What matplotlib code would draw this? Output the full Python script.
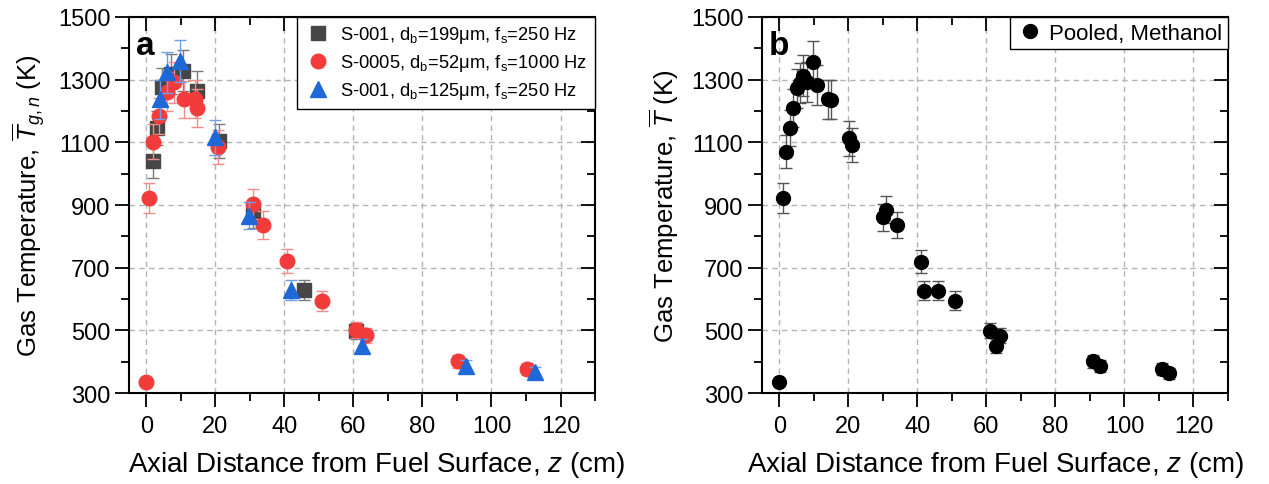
import matplotlib
matplotlib.use("Agg")
import matplotlib.pyplot as plt
from matplotlib.ticker import MultipleLocator, FixedLocator

plt.rcParams['font.family'] = ['Liberation Sans', 'DejaVu Sans']
plt.rcParams['mathtext.fontset'] = 'custom'
plt.rcParams['mathtext.rm'] = 'Liberation Sans'
plt.rcParams['mathtext.it'] = 'Liberation Sans:italic'
plt.rcParams['mathtext.bf'] = 'Liberation Sans:bold'

# panel a: three runs
gray_z = [1.8, 3.0, 4.4, 7.1, 10.7, 14.8, 21.1, 30.9, 45.8, 60.7]
gray_T = [1041, 1146, 1276, 1318, 1329, 1265, 1105, 871, 629, 497]
gray_err = [55, 55, 60, 63, 66, 63, 55, 44, 32, 25]

red_z = [0.0, 0.9, 1.8, 3.8, 5.9, 8.1, 10.8, 14.0, 14.8, 20.8, 30.9, 33.8, 40.7, 50.8, 60.7, 63.6, 90.3, 110.2]
red_T = [334, 921, 1102, 1183, 1262, 1292, 1237, 1238, 1209, 1084, 903, 837, 720, 594, 501, 485, 401, 377]
red_err = [5, 48, 55, 58, 62, 65, 60, 60, 60, 54, 47, 44, 38, 31, 25, 24, 20, 18]

blue_z = [4.0, 5.9, 9.8, 19.9, 29.7, 41.8, 62.6, 92.7, 112.6]
blue_T = [1238, 1323, 1360, 1116, 866, 630, 451, 387, 366]
blue_err = [62, 66, 66, 55, 43, 32, 22, 19, 18]

labels = ["S-001, d$_\\mathrm{b}$=199\u03bcm, f$_\\mathrm{s}$=250 Hz",
          "S-0005, d$_\\mathrm{b}$=52\u03bcm, f$_\\mathrm{s}$=1000 Hz",
          "S-001, d$_\\mathrm{b}$=125\u03bcm, f$_\\mathrm{s}$=250 Hz"]

# panel b: pooled
pool_z = [0.0, 1.0, 1.9, 3.0, 4.0, 5.0, 6.0, 7.0, 7.9, 9.9, 11.0, 14.2, 15.1, 20.1, 21.1,
          30.1, 30.8, 34.1, 41.0, 41.9, 46.0, 51.0, 60.9, 62.8, 64.0, 90.8, 92.9, 111.0, 112.9]
pool_T = [334, 921, 1070, 1145, 1209, 1272, 1290, 1313, 1292, 1355, 1283, 1238, 1236, 1113, 1092,
          861, 885, 837, 719, 627, 627, 594, 499, 449, 483, 401, 385, 377, 363]
pool_err = [5, 48, 53, 57, 60, 63, 64, 65, 64, 68, 64, 62, 62, 56, 55,
            43, 44, 42, 36, 31, 31, 30, 25, 22, 24, 20, 19, 19, 18]

y_major = [300, 500, 700, 900, 1100, 1300, 1500]
y_minor = [400, 600, 800, 1000, 1200, 1400]

fig = plt.figure(figsize=(12.69, 4.85), dpi=100)
ax1 = fig.add_axes([0.1017, 0.1876, 0.3672, 0.7753])
ax2 = fig.add_axes([0.6005, 0.1876, 0.3672, 0.7753])


def style_axes(ax):
    ax.set_xlim(-5, 130)
    ax.set_ylim(300, 1500)
    ax.xaxis.set_major_locator(MultipleLocator(20))
    ax.xaxis.set_minor_locator(MultipleLocator(10))
    ax.yaxis.set_major_locator(FixedLocator(y_major))
    ax.yaxis.set_minor_locator(FixedLocator(y_minor))
    ax.grid(True, which='major', ls=(0, (4, 3)), color='#b4b4b4', lw=1)
    ax.set_axisbelow(True)
    for s in ax.spines.values():
        s.set_linewidth(1.5)
    ax.tick_params(which='both', labelsize=17, width=1.3, direction='out',
                   top=True, right=True)
    ax.tick_params(which='major', length=10)
    ax.tick_params(which='minor', length=5.5)
    ax.tick_params(axis='x', which='both', pad=6)
    # mirrored ticks point inwards
    for t in ax.xaxis.get_major_ticks() + ax.xaxis.get_minor_ticks():
        t.tick2line.set_marker(3)
    for t in ax.yaxis.get_major_ticks() + ax.yaxis.get_minor_ticks():
        t.tick2line.set_marker(0)
    ax.set_xlabel("Axial Distance from Fuel Surface, $\\mathit{z}$ (cm)", fontsize=20)


style_axes(ax1)
style_axes(ax2)

c1 = ax1.errorbar(gray_z, gray_T, yerr=gray_err, fmt='s', color='#464646', ms=10,
                  ecolor='#7a7a7a', elinewidth=1, capsize=4.5, capthick=1, zorder=3)
c2 = ax1.errorbar(red_z, red_T, yerr=red_err, fmt='o', color='#f23c3c', ms=10.5,
                  ecolor='#f58c8c', elinewidth=1, capsize=4.5, capthick=1, zorder=4)
c3 = ax1.errorbar(blue_z, blue_T, yerr=blue_err, fmt='^', color='#1f68d8', ms=11,
                  ecolor='#6f9fe8', elinewidth=1, capsize=4.5, capthick=1, zorder=5)
ax1.set_ylabel("Gas Temperature, $\\overline{T}_{g,n}$ (K)", fontsize=18.5, labelpad=7)
ax1.xaxis.set_label_coords(0.53, -0.15)
leg = ax1.legend([c1[0], c2[0], c3[0]], labels, loc='upper right', fontsize=13.2,
                 borderaxespad=0, frameon=True, fancybox=False, edgecolor='black',
                 labelspacing=0.38, handletextpad=0.45, borderpad=0.4, handlelength=1.5,
                 framealpha=1)
leg.get_frame().set_linewidth(1)
ax1.text(0.015, 0.965, "a", transform=ax1.transAxes, fontsize=24, fontweight='bold',
         ha='left', va='top')

c4 = ax2.errorbar(pool_z, pool_T, yerr=pool_err, fmt='o', color='black', ms=10,
                  ecolor='#555555', elinewidth=1, capsize=4.5, capthick=1, zorder=3)
ax2.set_ylabel("Gas Temperature, $\\overline{T}$ (K)", fontsize=18.5, labelpad=7)
ax2.xaxis.set_label_coords(0.5, -0.15)
leg2 = ax2.legend([c4[0]], ["Pooled, Methanol"], loc='upper right', fontsize=16,
                  borderaxespad=0, frameon=True, fancybox=False, edgecolor='black',
                  handletextpad=0.2, borderpad=0.25, handlelength=1.3, framealpha=1)
leg2.get_frame().set_linewidth(1)
ax2.text(0.015, 0.965, "b", transform=ax2.transAxes, fontsize=24, fontweight='bold',
         ha='left', va='top')

fig.savefig("out.png", dpi=100)
